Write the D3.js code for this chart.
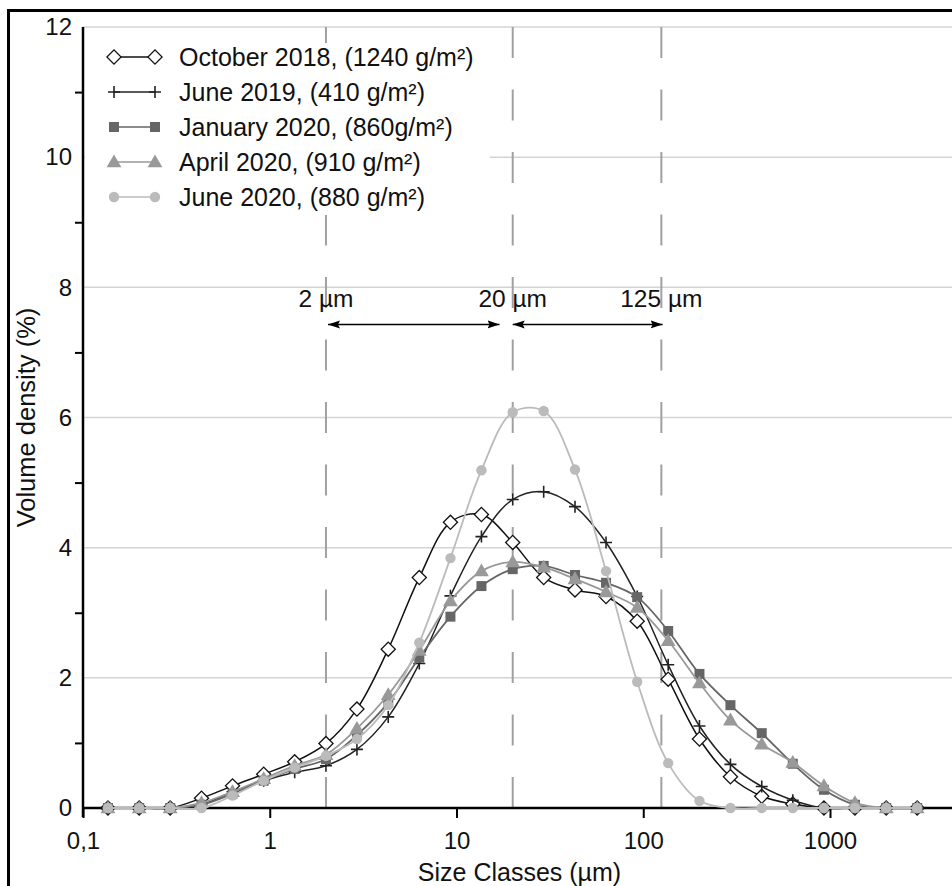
<!DOCTYPE html>
<html>
<head>
<meta charset="utf-8">
<script src="https://cdn.jsdelivr.net/npm/d3@7"></script>
<style>
  html, body { margin: 0; padding: 0; background: #fff; }
  svg { display: block; font-family: "Liberation Sans", Arial, sans-serif; }
</style>
</head>
<body>
<svg id="chart" width="952" height="886"></svg>
<script>
// ---------- data ----------
const sizes = [0.136, 0.2, 0.293, 0.431, 0.632, 0.928, 1.36, 2.0, 2.93, 4.31, 6.32, 9.28, 13.6, 20.0, 29.3, 43.1, 63.2, 92.8, 136, 200, 293, 431, 632, 928, 1360, 2000, 2930];

const seriesNames = ["October 2018, (1240 g/m²)", "June 2019, (410 g/m²)", "January 2020, (860g/m²)", "April 2020, (910 g/m²)", "June 2020, (880 g/m²)"];

const oct2018 = [0, 0, 0, 0.15, 0.34, 0.52, 0.71, 0.99, 1.52, 2.44, 3.54, 4.39, 4.51, 4.08, 3.54, 3.35, 3.25, 2.87, 1.98, 1.06, 0.48, 0.18, 0.06, 0, 0, 0, 0];
const jun2019 = [0, 0, 0, 0.05, 0.25, 0.42, 0.55, 0.65, 0.90, 1.40, 2.22, 3.26, 4.17, 4.74, 4.86, 4.63, 4.08, 3.25, 2.20, 1.26, 0.67, 0.33, 0.12, 0, 0, 0, 0];
const jan2020 = [0, 0, 0, 0.05, 0.22, 0.42, 0.60, 0.75, 1.12, 1.62, 2.31, 2.94, 3.41, 3.67, 3.72, 3.58, 3.46, 3.24, 2.72, 2.06, 1.58, 1.15, 0.68, 0.28, 0.05, 0, 0];
const apr2020 = [0, 0, 0, 0.08, 0.25, 0.45, 0.65, 0.82, 1.22, 1.74, 2.42, 3.18, 3.64, 3.78, 3.70, 3.52, 3.32, 3.08, 2.57, 1.92, 1.35, 0.98, 0.70, 0.34, 0.08, 0, 0];
const jun2020 = [0, 0, 0, 0, 0.19, 0.42, 0.62, 0.80, 1.06, 1.58, 2.54, 3.84, 5.19, 6.08, 6.10, 5.20, 3.64, 1.94, 0.69, 0.11, 0, 0, 0, 0, 0, 0, 0];

const xTickValues = [0.1, 1, 10, 100, 1000];
const xTickLabels = ["0,1", "1", "10", "100", "1000"];
const yMajorTicks = [0, 2, 4, 6, 8, 10, 12];
const yMinorTicks = [1, 3, 5, 7, 9, 11];
const fractionBounds = [2, 20, 125];
const fractionLabels = ["2 µm", "20 µm", "125 µm"];
const arrowRanges = [[2.05, 17], [20, 127]];

// ---------- styles ----------
const lineColors = ["#111", "#222", "#666", "#999", "#bbb"];
const markerKinds = ["diamond", "plus", "square", "triangle", "circle"];

const svg = d3.select("#chart");
const W = 952;
const plotLeft = 83, plotTop = 27, plotBottom = 808;

const x = d3.scaleLog().domain([0.1, 1000]).range([plotLeft, 830]);
const y = d3.scaleLinear().domain([0, 12]).range([plotBottom, plotTop]);

// outer frame
svg.append("rect").attr("x", 8.5).attr("y", 10.5).attr("width", 1000).attr("height", 1000)
  .attr("fill", "none").attr("stroke", "#000").attr("stroke-width", 3);

// horizontal gridlines
svg.append("g").selectAll("line").data(yMajorTicks.filter(d => d > 0)).join("line")
  .attr("x1", plotLeft).attr("x2", W).attr("y1", d => y(d)).attr("y2", d => y(d))
  .attr("stroke", "#d4d4d4").attr("stroke-width", 1.5);

// dashed fraction boundaries
svg.append("g").selectAll("line").data(fractionBounds).join("line")
  .attr("x1", d => x(d)).attr("x2", d => x(d)).attr("y1", y(0)).attr("y2", y(12))
  .attr("stroke", "#a0a0a0").attr("stroke-width", 2).attr("stroke-dasharray", "31,31.5");

// y axis
const yAxis = svg.append("g").attr("transform", `translate(${plotLeft},0)`)
  .call(d3.axisLeft(y).tickValues(yMajorTicks).tickSize(0).tickPadding(11).tickFormat(d3.format("d")));
yAxis.select(".domain").remove();
yAxis.selectAll("text").attr("font-size", 24).attr("fill", "#111").attr("font-family", "Liberation Sans, Arial, sans-serif");
svg.append("g").attr("transform", `translate(${plotLeft},0)`)
  .call(d3.axisLeft(y).tickValues(yMinorTicks).tickSize(8).tickFormat(""))
  .call(g => g.select(".domain").remove())
  .selectAll("line").attr("stroke", "#000").attr("stroke-width", 2);
svg.append("line").attr("x1", plotLeft).attr("x2", plotLeft).attr("y1", y(12)).attr("y2", plotBottom + 9)
  .attr("stroke", "#000").attr("stroke-width", 2.5);

// x axis
svg.append("line").attr("x1", plotLeft).attr("x2", W).attr("y1", y(0)).attr("y2", y(0))
  .attr("stroke", "#000").attr("stroke-width", 2.5);
const xAxis = svg.append("g").attr("transform", `translate(0,${plotBottom})`)
  .call(d3.axisBottom(x).tickValues(xTickValues).tickSize(10).tickPadding(14)
    .tickFormat((d, i) => xTickLabels[i]));
xAxis.select(".domain").remove();
xAxis.selectAll("line").attr("stroke", "#000").attr("stroke-width", 2);
xAxis.selectAll("text").attr("font-size", 24).attr("fill", "#111").attr("font-family", "Liberation Sans, Arial, sans-serif");

// axis titles
svg.append("text").attr("x", (x(0.1) + x(1000)) / 2 + 63).attr("y", 881).attr("text-anchor", "middle")
  .attr("font-size", 25).attr("fill", "#111").text("Size Classes (µm)");
svg.append("text").attr("transform", `translate(35,${(y(0) + y(12)) / 2}) rotate(-90)`)
  .attr("text-anchor", "middle").attr("font-size", 25.5).attr("fill", "#111").text("Volume density (%)");

// fraction labels + arrows
svg.append("defs").append("marker").attr("id", "ah").attr("viewBox", "0 0 12 10")
  .attr("refX", 12).attr("refY", 5).attr("markerWidth", 12).attr("markerHeight", 10)
  .attr("markerUnits", "userSpaceOnUse").attr("orient", "auto-start-reverse")
  .append("path").attr("d", "M0,1 L12,5 L0,9 L2,5 Z").attr("fill", "#000");
svg.append("g").selectAll("text").data(fractionBounds).join("text")
  .attr("x", d => x(d)).attr("y", y(7.70)).attr("text-anchor", "middle")
  .attr("font-size", 24.5).attr("fill", "#111").text((d, i) => fractionLabels[i]);
svg.append("g").selectAll("line").data(arrowRanges).join("line")
  .attr("x1", d => x(d[0])).attr("x2", d => x(d[1])).attr("y1", y(7.43)).attr("y2", y(7.43))
  .attr("stroke", "#000").attr("stroke-width", 1.5)
  .attr("marker-start", "url(#ah)").attr("marker-end", "url(#ah)");

// ---------- series ----------
const allSeries = [oct2018, jun2019, jan2020, apr2020, jun2020];
const line = d3.line().x((d, i) => x(sizes[i])).y(d => y(d)).curve(d3.curveCatmullRom.alpha(0.5));

function drawMarker(g, kind, color) {
  if (kind === "diamond") {
    g.append("path").attr("d", d3.symbol(d3.symbolSquare, 100)()).attr("transform", "rotate(45)")
      .attr("fill", "#fff").attr("stroke", color).attr("stroke-width", 1.3);
  } else if (kind === "plus") {
    g.append("path").attr("d", "M-6,0H6M0,-6V6").attr("stroke", color).attr("stroke-width", 1.6);
  } else if (kind === "square") {
    g.append("path").attr("d", d3.symbol(d3.symbolSquare, 100)()).attr("fill", color);
  } else if (kind === "triangle") {
    g.append("path").attr("d", d3.symbol(d3.symbolTriangle, 95)()).attr("transform", "translate(0,1)").attr("fill", color);
  } else {
    g.append("path").attr("d", d3.symbol(d3.symbolCircle, 85)()).attr("fill", color);
  }
}

allSeries.forEach((vals, si) => {
  const g = svg.append("g");
  g.append("path").datum(vals).attr("d", line).attr("fill", "none")
    .attr("stroke", lineColors[si]).attr("stroke-width", si < 2 ? 1.5 : 1.8);
  vals.forEach((v, i) => {
    const mg = g.append("g").attr("transform", `translate(${x(sizes[i])},${y(v)})`);
    drawMarker(mg, markerKinds[si], lineColors[si]);
  });
});

// ---------- legend ----------
const lg = svg.append("g");
lg.append("rect").attr("x", plotLeft + 2).attr("y", 43).attr("width", 405).attr("height", 172).attr("fill", "#fff");
seriesNames.forEach((name, si) => {
  const cy = 57 + si * 35;
  const row = lg.append("g").attr("transform", `translate(0,${cy})`);
  row.append("line").attr("x1", 114).attr("x2", 155).attr("y1", 0).attr("y2", 0)
    .attr("stroke", lineColors[si]).attr("stroke-width", si < 2 ? 1.5 : 1.5);
  [114, 155].forEach(px => drawMarker(row.append("g").attr("transform", `translate(${px},0)`), markerKinds[si], lineColors[si]));
  row.append("text").attr("x", 179).attr("y", 0).attr("dy", "0.35em")
    .attr("font-size", 25).attr("fill", "#111").text(name);
});
</script>
</body>
</html>
